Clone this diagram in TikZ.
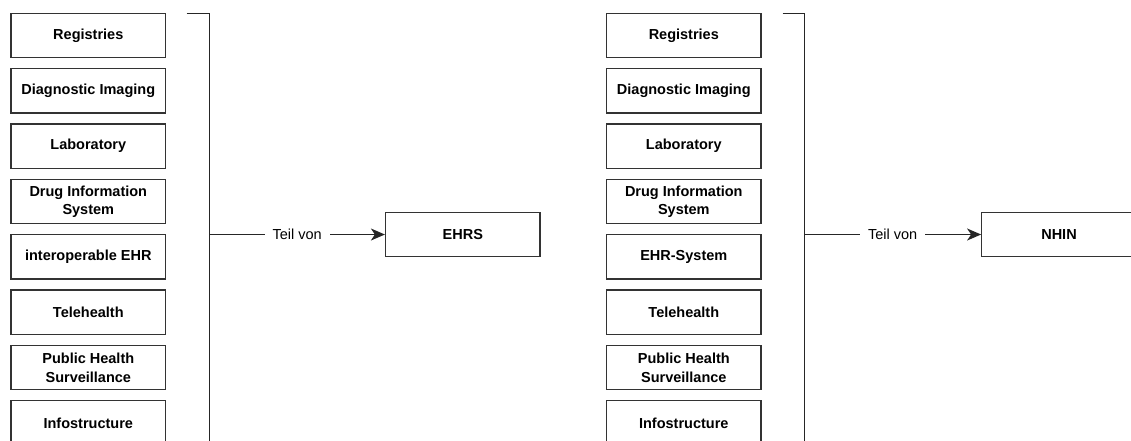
\documentclass[tikz,border=0pt]{standalone}
\usepackage{fontspec}
\setmainfont{Liberation Sans}
\usetikzlibrary{arrows.meta}
\begin{document}
\begin{tikzpicture}[x=1pt,y=-1pt,
  part/.style={draw=black!80, line width=1.3pt, minimum width=154.5pt, minimum height=44.3pt,
    inner sep=0pt, align=center, font=\fontsize{14.5}{18.5}\selectfont\bfseries},
  target/.style={part},
  brace/.style={draw=black!85, line width=1.4pt},
  link/.style={draw=black!85, line width=1.4pt, -{Stealth[length=14pt,width=12pt,inset=4pt]}},
  linklabel/.style={fill=white, inner xsep=8pt, inner ysep=2pt, font=\fontsize{14.5}{17}\selectfont}
]
\useasboundingbox (0,0) rectangle (1131,440);
\clip (0,0) rectangle (1131,440);

% ---- left group: components of the EHRS ----
\foreach \txt [count=\i from 0] in {Registries,Diagnostic Imaging,Laboratory,
    {Drug Information\\System},interoperable EHR,Telehealth,{Public Health\\Surveillance},Infostructure}
  \node[part] (l\i) at (88.3, 35.5+55.35*\i) {\txt};

\coordinate (lbt) at (186.7,13.3);
\coordinate (lbc) at (209.3,13.3);
\coordinate (lbb) at (209.3,450);
\draw[brace] (lbt) -- (lbc) -- (lbb);

\node[target] (ehrs) at (462.8,234.5) {EHRS};
\coordinate (lsrc) at (209.3,234.5);
\draw[link] (lsrc) -- node[linklabel] {Teil von} (ehrs.west);

% ---- right group: components of the NHIN ----
\foreach \txt [count=\i from 0] in {Registries,Diagnostic Imaging,Laboratory,
    {Drug Information\\System},EHR-System,Telehealth,{Public Health\\Surveillance},Infostructure}
  \node[part] (r\i) at (683.8, 35.5+55.35*\i) {\txt};

\coordinate (rbt) at (782.7,13.3);
\coordinate (rbc) at (804.3,13.3);
\coordinate (rbb) at (804.3,450);
\draw[brace] (rbt) -- (rbc) -- (rbb);

\node[target] (nhin) at (1059,234.5) {NHIN};
\coordinate (rsrc) at (804.3,234.5);
\draw[link] (rsrc) -- node[linklabel] {Teil von} (nhin.west);
\end{tikzpicture}
\end{document}
